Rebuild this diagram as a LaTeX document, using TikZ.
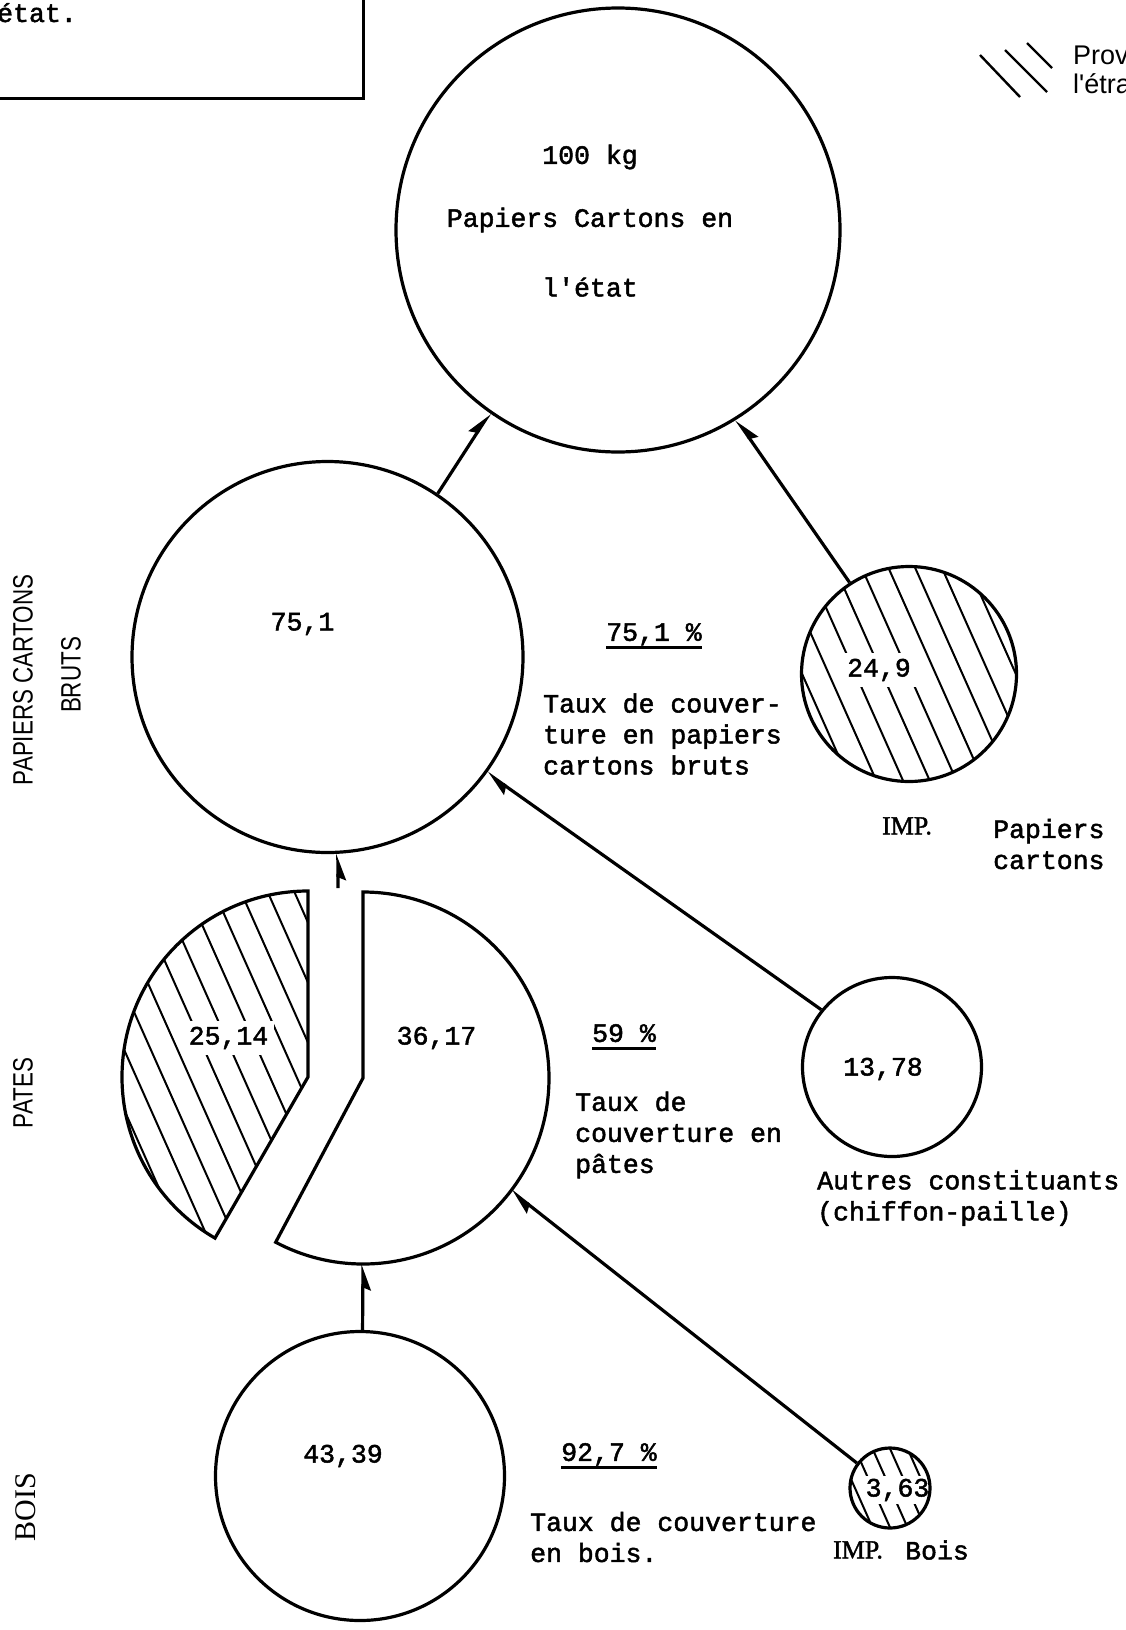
\documentclass[tikz,border=0pt]{standalone}
\usepackage{fontspec}
\setmainfont{Liberation Serif}
\newfontfamily\monofam[FakeBold=1.8]{Liberation Mono}
\newfontfamily\narrowsans[FakeStretch=0.8]{Liberation Sans}
\newfontfamily\plainsans{Liberation Sans}
\newfontfamily\heavyserif[FakeBold=1.5]{Liberation Serif}
\usetikzlibrary{arrows.meta}

\newcommand\tyfont{\monofam\fontsize{26.5}{31}\selectfont}
\newcommand\lbfont{\narrowsans\fontsize{28}{29}\selectfont}
\newcommand\rmbig{\heavyserif\fontsize{26}{30}\selectfont}
% underlined figure with a thick rule
\newcommand\ulined[1]{\setbox0\hbox{#1}\leavevmode\rlap{\rule[-8pt]{\wd0}{2.4pt}}\box0}

\tikzset{
  ring/.style={circle, draw, line width=3.2pt, inner sep=0pt},
  slice/.style={draw, line width=3.2pt, line join=miter},
  hatchline/.style={line width=2pt},
  conn/.style={line width=3.2pt},
  tipL/.style={-{Stealth[harpoon,length=22pt,width=16pt,inset=3pt]}},
  tipR/.style={-{Stealth[harpoon,swap,length=22pt,width=16pt,inset=3pt]}},
  txt/.style={font=\tyfont, inner sep=0pt},
  val/.style={font=\tyfont, inner sep=6pt, fill=white},
  side/.style={font=\lbfont, rotate=90, inner sep=0pt},
}

\begin{document}
\begin{tikzpicture}[x=1pt, y=-1pt]
\useasboundingbox (0,0) rectangle (1125,1630);
\fill[white] (0,0) rectangle (1125,1630);
\clip (0,0) rectangle (1125,1630);

% frame of the title box
\draw[line width=3pt] (-10,98) -- (363,98) -- (363,-10);
\node[txt, anchor=base west] (title) at (-3,22) {état.};

% legend
\draw[hatchline, line width=2.4pt] (980,55) -- (1020,97);
\draw[hatchline, line width=2.4pt] (1005,50) -- (1047,92);
\draw[hatchline, line width=2.4pt] (1027,43) -- (1052,68);
\node[font=\plainsans\fontsize{27}{29}\selectfont, anchor=west, align=left, inner sep=0pt] (legend) at (1073,72) {Provenant de\\l'étranger};

% side labels
\node[side] (lab1) at (23,680) {PAPIERS CARTONS};
\node[side] (lab2) at (71,675) {BRUTS};
\node[side] (lab3) at (23,1093) {PATES};
\node[font=\rmfamily\fontsize{30}{32}\selectfont, rotate=90, inner sep=0pt] (lab4) at (26,1507) {BOIS};

% top circle
\node[ring, minimum size=444pt] (top) at (618,230) {};
\node[txt] (t100) at (590,157) {100 kg};
\node[txt] (tpc) at (590,220) {Papiers Cartons en};
\node[txt] (tetat) at (590,287) {l'état};

% papiers cartons bruts
\node[ring, minimum size=391pt] (c751) at (327.5,657) {};
\node[txt] (t751) at (302.5,624) {75,1};
\node[txt] (p751) at (654,636) {\ulined{75,1 \%}};
\node[txt, anchor=west, align=left] (d751) at (543,734) {Taux de couver-\\ture en papiers\\cartons bruts};

% imported paper and board
\begin{scope}
  \clip (909,674) circle[radius=107.5];
  \foreach \t in {-122,-97.6,...,130}
    \draw[hatchline, shift={(909,674)}] ({\t*0.914-130*0.407},{-\t*0.407-130*0.914}) -- ++({260*0.407},{260*0.914});
\end{scope}
\node[val] (t249) at (879,670) {24,9};
\node[ring, minimum size=215pt] (c249) at (909,674) {};
\node[font=\rmbig] (imp1) at (907,826) {IMP.};
\node[txt, anchor=west, align=left] (imp1w) at (993,844) {Papiers\\cartons};

% other constituents
\node[ring, minimum size=179pt] (c1378) at (892,1067) {};
\node[txt] (t1378) at (883,1069) {13,78};
\node[txt, anchor=west, align=left] (d1378) at (817,1198) {Autres constituants\\(chiffon-paille)};

% pulps: imported part and home part
\coordinate (hc) at (308,1077);
\coordinate (wc) at (363,1078);
\begin{scope}
  \clip (hc) -- ++(0,-186) arc[start angle=-90, end angle=-240, radius=186] -- cycle;
  \foreach \t in {-230,-205.6,...,230}
    \draw[hatchline, shift={(hc)}] ({\t*0.914-230*0.407},{-\t*0.407-230*0.914}) -- ++({460*0.407},{460*0.914});
\end{scope}
\node[val] (t2514) at (228.5,1038) {25,14};
\draw[slice] (hc) -- ++(0,-186) arc[start angle=-90, end angle=-240, radius=186] -- cycle;
\draw[slice] (wc) -- ++(0,-186) arc[start angle=-90, end angle=118, radius=186] -- cycle;
\node[txt] (t3617) at (436.5,1038) {36,17};
\coordinate (wbot) at ([shift={(90:186)}]wc);
\coordinate (wrim) at ([shift={(37.3:186)}]wc);
\coordinate (pgap) at (338,888);
\node[txt] (p59) at (624,1037) {\ulined{59 \%}};
\node[txt, anchor=west, align=left] (d59) at (575,1135) {Taux de\\couverture en\\pâtes};

% wood
\node[ring, minimum size=289pt] (cbois) at (360,1476) {};
\node[txt] (t4339) at (343,1456) {43,39};
\node[txt] (p927) at (609,1456) {\ulined{92,7 \%}};
\node[txt, anchor=west, align=left] (d927) at (530,1537) {Taux de couverture\\en bois.};

% imported wood
\begin{scope}
  \clip (890,1488) circle[radius=40];
  \foreach \t in {-48,-32,...,48}
    \draw[hatchline, shift={(890,1488)}] ({\t*0.914-50*0.407},{-\t*0.407-50*0.914}) -- ++({100*0.407},{100*0.914});
\end{scope}
\node[val, inner sep=3pt] (t363) at (897.5,1490) {3,63};
\node[ring, minimum size=80pt] (c363) at (890,1488) {};
\node[font=\rmbig] (imp2) at (858,1550) {IMP.};
\node[txt] (imp2w) at (937,1550) {Bois};

% flows
\draw[conn, tipL] (c751.56) -- (top.235);
\draw[conn, tipR] (c249.123) -- (top.302.5);
\draw[conn, tipR] (pgap) -- (c751.273);
\draw[conn, tipL] (c1378.141.4) -- (c751.324.5);
\draw[conn, tipL] (c363.143) -- (wrim);
\draw[conn, tipR] (cbois.89) -- (wbot);
\end{tikzpicture}
\end{document}
